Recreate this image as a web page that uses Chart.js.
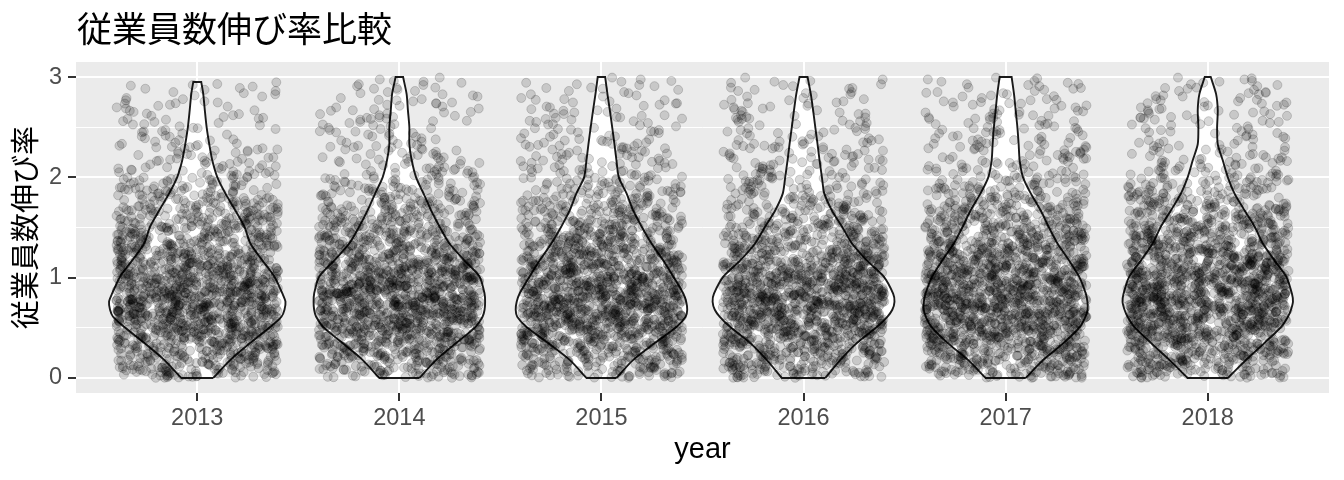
<!DOCTYPE html>
<html><head><meta charset="utf-8">
<script src="https://cdn.jsdelivr.net/npm/chart.js@4.4.1/dist/chart.umd.min.js"></script>
<style>html,body{margin:0;padding:0;background:#fff}#wrap{width:1344px;height:480px;position:relative}</style>
</head><body><div id="wrap"><canvas id="c" width="1344" height="480"></canvas></div>
<script>
// ---------------- data ----------------
const chartTitle = '従業員数伸び率比較';
const xTitle = 'year';
const yTitle = '従業員数伸び率';
const years = ['2013', '2014', '2015', '2016', '2017', '2018'];
const yTickValues = [0, 1, 2, 3];
const yMinorValues = [0.5, 1.5, 2.5];

// violin outline: relative density (max = 1) at these value levels, plus the top (max value) per year
const violinLevels = [0, 0.18, 0.35, 0.51, 0.61, 0.68, 0.76, 0.84, 1.01, 1.17, 1.34, 1.51, 1.67, 1.84, 2.0, 2.17, 2.33, 2.5, 2.67, 2.83];
const violinTop = [2.95, 3, 3, 3, 3, 3];
const density2013 = [0.176,0.364,0.584,0.805,0.926,0.959,0.970,0.937,0.849,0.717,0.584,0.518,0.419,0.309,0.221,0.165,0.132,0.103,0.083,0.066,0.044];
const density2014 = [0.221,0.405,0.628,0.838,0.915,0.937,0.943,0.937,0.882,0.717,0.551,0.441,0.349,0.265,0.184,0.136,0.110,0.110,0.094,0.080,0.041];
const density2015 = [0.165,0.349,0.590,0.827,0.926,0.943,0.932,0.901,0.791,0.680,0.551,0.441,0.349,0.276,0.191,0.165,0.143,0.118,0.092,0.066,0.041];
const density2016 = [0.239,0.405,0.588,0.808,0.921,0.976,1.000,0.985,0.882,0.698,0.533,0.422,0.312,0.228,0.202,0.176,0.154,0.129,0.105,0.080,0.044];
const density2017 = [0.221,0.413,0.639,0.816,0.877,0.901,0.899,0.882,0.808,0.698,0.570,0.471,0.386,0.276,0.191,0.154,0.143,0.129,0.110,0.092,0.066];
const density2018 = [0.221,0.422,0.625,0.808,0.882,0.915,0.937,0.926,0.863,0.735,0.606,0.515,0.405,0.294,0.221,0.165,0.110,0.103,0.110,0.092,0.033];

// number of observations per 0.1-wide value bin (0-0.1, 0.1-0.2, ... 2.9-3.0), estimated from the point cloud
const binWidth = 0.1;
const counts2013 = [54,60,70,82,96,108,118,120,116,108,98,89,77,68,64,60,52,43,36,29,22,18,16,13,12,11,10,10,9,5];
const counts2014 = [50,58,70,84,98,110,118,120,119,114,106,94,82,70,62,55,48,41,34,26,20,17,14,13,13,13,12,11,10,8];
const counts2015 = [48,55,66,79,96,110,119,120,115,108,98,91,82,72,62,55,48,41,34,28,21,19,18,17,14,13,12,11,10,8];
const counts2016 = [54,60,70,79,94,106,115,120,118,112,101,88,74,64,55,48,40,32,28,25,22,20,18,17,14,13,12,11,10,8];
const counts2017 = [58,66,78,90,103,113,119,120,118,113,106,96,86,77,68,61,54,46,36,29,22,20,19,18,17,15,14,13,12,10];
const counts2018 = [55,64,74,86,98,108,116,120,119,115,108,98,88,79,72,65,55,46,37,31,24,20,15,13,13,13,14,13,12,9];

const densities = [density2013, density2014, density2015, density2016, density2017, density2018];
const counts = [counts2013, counts2014, counts2015, counts2016, counts2017, counts2018];

// ---------------- build datasets ----------------
const VIOLIN_HALF = 0.45;   // geom_violin width 0.9
const JITTER_HALF = 0.4;    // geom_jitter width 0.4

function violinPath(k) {
  const c = k + 1;
  const lv = violinLevels.concat([violinTop[k]]);
  const d = densities[k];
  const R = lv.map((v, i) => ({x: c + d[i] * VIOLIN_HALF, y: v}));
  const L = lv.map((v, i) => ({x: c - d[i] * VIOLIN_HALF, y: v})).reverse();
  const n = R.length - 1;
  return [R[0], R[0]].concat(R.slice(1), [R[n]], [L[0]], L, [L[L.length - 1]], [R[0], R[0]]);
}

// fixed layout helpers: values inside a bin are spread evenly (Halton base 3);
// the horizontal jitter (geom_jitter, not data) uses a fixed integer hash so the picture is reproducible
function halton(i, b) { let f = 1, r = 0; while (i > 0) { f /= b; r += f * (i % b); i = Math.floor(i / b); } return r; }
function hashUnit(i) {
  let t = (i * 0x9E3779B1) >>> 0;
  t = Math.imul(t ^ (t >>> 15), t | 1);
  t ^= t + Math.imul(t ^ (t >>> 7), t | 61);
  return ((t ^ (t >>> 14)) >>> 0) / 4294967296;
}
function jitterPoints(k) {
  const c = k + 1, out = [];
  let idx = 1 + k * 3571;
  counts[k].forEach((n, j) => {
    const lo = j * binWidth;
    const hi = Math.min((j + 1) * binWidth, violinTop[k]);
    for (let m = 0; m < n; m++) {
      idx++;
      out.push({x: c + (hashUnit(idx) - 0.5) * 2 * JITTER_HALF, y: lo + halton(m + 1 + j * 7, 3) * (hi - lo)});
    }
  });
  return out;
}

const datasets = [];
years.forEach((y, k) => {
  datasets.push({
    type: 'line', data: violinPath(k), order: 2,
    borderColor: '#1a1a1a', borderWidth: 1.9, backgroundColor: '#FFFFFF', fill: 'shape',
    pointRadius: 0, tension: 0.25, parsing: false
  });
});
years.forEach((y, k) => {
  datasets.push({
    type: 'scatter', data: jitterPoints(k), order: 1,
    pointRadius: 4.5, pointBorderWidth: 1,
    backgroundColor: 'rgba(0,0,0,0.15)', borderColor: 'rgba(0,0,0,0.16)'
  });
});

const isMajor = v => yTickValues.some(t => Math.abs(t - v) < 1e-6);

const bgPlugin = {
  id: 'panelBg',
  beforeDraw(chart) {
    const {ctx, chartArea: a} = chart;
    ctx.save();
    ctx.fillStyle = '#FFFFFF'; ctx.fillRect(0, 0, chart.width, chart.height);
    ctx.fillStyle = '#EBEBEB'; ctx.fillRect(a.left, a.top, a.right - a.left, a.bottom - a.top);
    ctx.restore();
  }
};
const titlePlugin = {
  id: 'mainTitle',
  afterDraw(chart) {
    const ctx = chart.ctx;
    ctx.save();
    ctx.font = '35px "Noto Sans CJK JP"';
    ctx.fillStyle = '#000'; ctx.textAlign = 'left'; ctx.textBaseline = 'alphabetic';
    ctx.fillText(chartTitle, 77, 41.5);
    ctx.restore();
  }
};

new Chart(document.getElementById('c'), {
  type: 'scatter',
  data: {datasets},
  options: {
    responsive: false, animation: false, devicePixelRatio: 1, events: [],
    layout: {padding: {top: 62, right: 15, left: 0, bottom: 0}},
    plugins: {legend: {display: false}, tooltip: {enabled: false}, title: {display: false}},
    scales: {
      x: {
        type: 'linear', min: 0.4, max: 6.6,
        afterBuildTicks: s => { s.ticks = years.map((_, i) => ({value: i + 1})); },
        afterFit: s => { s.height = 87; },
        ticks: {callback: v => years[Math.round(v) - 1], font: {family: "'Liberation Sans', Arial, sans-serif", size: 23.5},
                color: '#4D4D4D', padding: 3, maxRotation: 0, autoSkip: false},
        grid: {color: '#FFFFFF', lineWidth: 2, tickColor: '#333333', tickLength: 8, tickWidth: 2},
        border: {display: false},
        title: {display: true, text: xTitle, font: {family: "'Liberation Sans', Arial, sans-serif", size: 29}, color: '#000', padding: {top: 0, bottom: 12.6}}
      },
      y: {
        type: 'linear', min: -0.15, max: 3.15,
        afterBuildTicks: s => { s.ticks = yTickValues.concat(yMinorValues).sort((a, b) => a - b).map(v => ({value: v})); },
        afterFit: s => { s.width = 76; },
        ticks: {callback: v => isMajor(v) ? String(Math.round(v)) : '', font: {family: "'Liberation Sans', Arial, sans-serif", size: 23.5},
                color: '#4D4D4D', padding: 6},
        grid: {color: '#FFFFFF', lineWidth: c => isMajor(c.tick.value) ? 2 : 1,
               tickColor: c => isMajor(c.tick.value) ? '#333333' : 'rgba(0,0,0,0)', tickLength: 8, tickWidth: 2},
        border: {display: false},
        title: {display: true, text: yTitle, font: {family: "'Noto Sans CJK JP', sans-serif", size: 29}, color: '#000', padding: {top: 8, bottom: 0}}
      }
    }
  },
  plugins: [bgPlugin, titlePlugin]
});
</script>
</body></html>
